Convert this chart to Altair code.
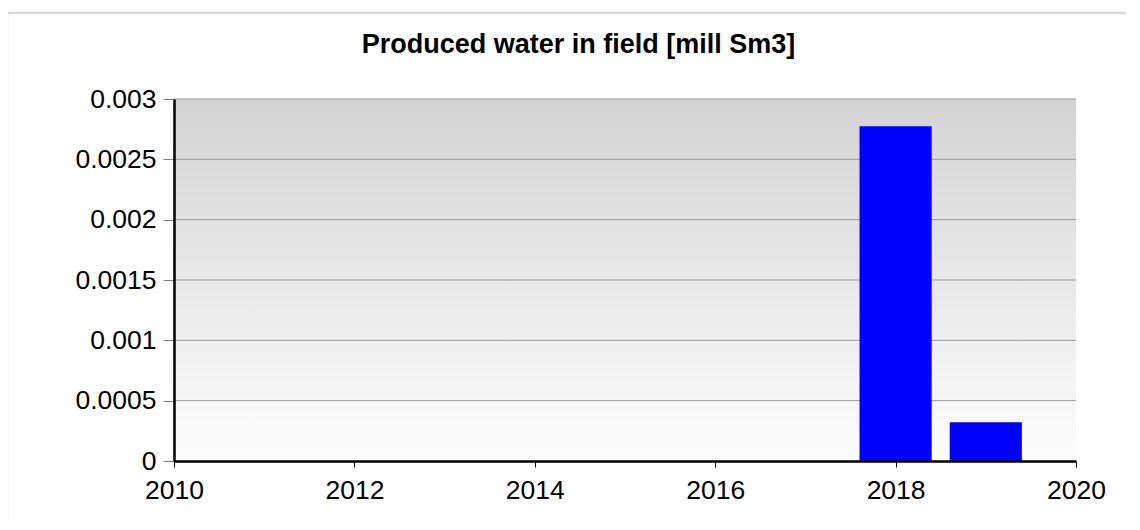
import altair as alt
import pandas as pd

# ---- data ----
years = [2018, 2019]
water = [0.002775, 0.000322]
x_ticks = [2010, 2012, 2014, 2016, 2018, 2020]
y_ticks = [0, 0.0005, 0.001, 0.0015, 0.002, 0.0025, 0.003]
title_text = "Produced water in field [mill Sm3]"

W, H = 902, 362
FONT = "Liberation Sans"

bars_df = pd.DataFrame({"year": years, "water": water})
grid_df = pd.DataFrame({"v": y_ticks[1:]})
title_df = pd.DataFrame({"t": [title_text]})

xscale = alt.Scale(domain=[2010, 2020], nice=False, zero=False, padding=0)
yscale = alt.Scale(domain=[0, 0.003], nice=False, padding=0)

x_axis = alt.Axis(
    values=x_ticks, format="d", title=None, grid=False,
    domainColor="#000000", domainWidth=2.5,
    tickColor="#000000", tickSize=6, tickWidth=1,
    labelFontSize=26.5, labelFont=FONT, labelColor="#000000",
    labelPadding=10, labelFlush=False, labelOverlap=False, zindex=1,
)
y_axis = alt.Axis(
    values=y_ticks, format="~g", title=None, grid=False,
    domainColor="#000000", domainWidth=2.5,
    tickColor="#808080", tickSize=11, tickWidth=1,
    labelFontSize=26.5, labelFont=FONT, labelColor="#000000",
    labelPadding=7, labelFlush=False, labelOverlap=False, zindex=1,
)

frame = alt.Chart(title_df).mark_rect(
    fill="transparent", stroke="#d9d9d9", strokeWidth=2.5
).encode(
    x=alt.value(-167), x2=alt.value(1200), y=alt.value(-86), y2=alt.value(700)
)

bg = alt.Chart(title_df).mark_rect(
    color=alt.LinearGradient(
        gradient="linear",
        stops=[
            alt.GradientStop(color="#d3d3d3", offset=0),
            alt.GradientStop(color="#fdfdfd", offset=1),
        ],
        x1=0, x2=0, y1=0, y2=1,
    )
).encode(x=alt.value(0), x2=alt.value(W), y=alt.value(0), y2=alt.value(H))

grid = alt.Chart(grid_df).mark_rule(color="#9a9a9a", strokeWidth=1).encode(
    y=alt.Y("v:Q", scale=yscale, axis=y_axis)
)

bars = alt.Chart(bars_df).transform_calculate(
    x0="datum.year - 0.4", x1="datum.year + 0.4", base="0"
).mark_rect(color="#0000ff").encode(
    x=alt.X("x0:Q", scale=xscale, axis=x_axis),
    x2="x1:Q",
    y=alt.Y("water:Q", scale=yscale, axis=y_axis),
    y2="base:Q",
)

title = alt.Chart(title_df).mark_text(
    font=FONT, fontSize=27, fontWeight="bold", color="#000000",
    align="center", baseline="alphabetic",
).encode(x=alt.value(404.5), y=alt.value(-46.5), text="t:N")

chart = alt.layer(frame, bg, grid, bars, title).properties(
    width=W,
    height=H,
    autosize=alt.AutoSizeParams(type="none"),
    padding={"left": 166, "top": 91, "right": 50, "bottom": 60},
    background="#ffffff",
).configure_view(stroke=None)

chart.save("out.html", embed_options={"renderer": "svg", "actions": False})
